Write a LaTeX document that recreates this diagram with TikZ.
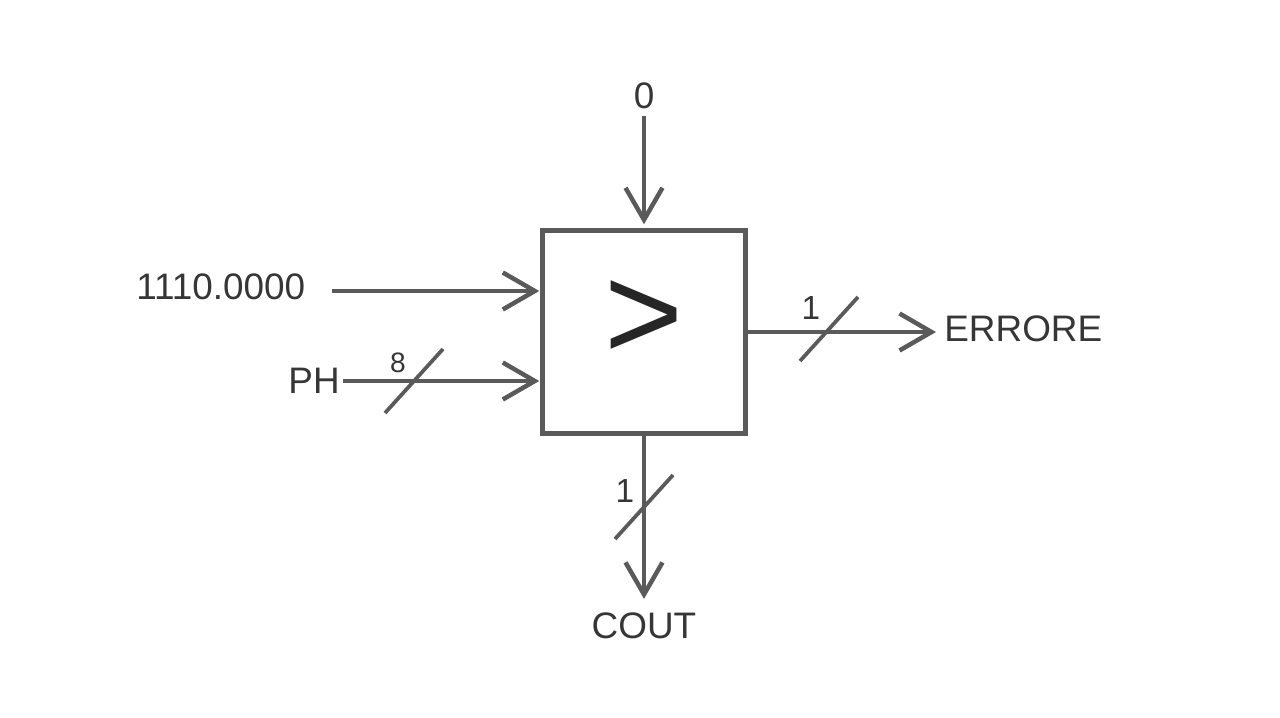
\documentclass[tikz,border=0pt]{standalone}
\usepackage{fontspec}
\setmainfont{Liberation Sans}
\usepackage{xcolor}
\usetikzlibrary{arrows.meta,positioning,calc}
\definecolor{wire}{HTML}{5A5A5A}
\definecolor{ink}{HTML}{363636}
\definecolor{sign}{HTML}{262626}

\begin{document}
\begin{tikzpicture}[x=0.02cm,y=-0.02cm,>={Straight Barb[length=0.64cm,width=0.74cm]},
  sig/.style={->,draw=wire,line width=0.09cm,shorten >=0.02cm},
  bus/.style={draw=wire,line width=0.075cm},
  lbl/.style={inner sep=0,text=ink,font=\fontsize{21}{25}\selectfont},
  width/.style={inner sep=0,text=ink,font=\fontsize{19}{22}\selectfont},
  cmpbox/.style={draw=wire,line width=0.09cm,minimum size=4.06cm,inner sep=0}]
\useasboundingbox (0,0) rectangle (1280,717);
% comparator
\node[cmpbox] (cmp) at (644,332) {};
\node[inner sep=0,text=sign,font=\fontsize{77}{80}\selectfont,anchor=base] (gt) at (644,359) {>};
% labels
\node[lbl,anchor=base] (zero) at (644,108) {0};
\node[lbl,anchor=base west] (thr) at (136,299) {1110.0000};
\node[lbl,anchor=base east] (ph) at (340,393) {PH};
\node[lbl,anchor=base west] (err) at (944,341) {ERRORE};
\node[lbl,anchor=base] (cout) at (644,638) {COUT};
\node[width,anchor=base,font=\fontsize{16}{18}\selectfont] (w8) at (398,372) {8};
\node[width,anchor=base] (w1e) at (811,319) {1};
\node[width,anchor=base] (w1c) at (625,502) {1};
% wires
\draw[sig] ([shift={(0,7)}]zero.south) -- ([shift={(0,-3)}]cmp.north);
\draw[sig] ([shift={(26,-8)}]thr.base east) -- (cmp.west |- 0,291);
\draw[sig] ([shift={(3,-12)}]ph.base east) -- (cmp.west |- 0,381);
\draw[sig] (cmp.east |- 0,332) -- ([shift={(-7,-9)}]err.base west);
\draw[sig] (cmp.south) -- ([shift={(0,-12)}]cout.north);
% bus marks
\draw[bus] (385,413) -- ++(58,-64);
\draw[bus] (800,361) -- ++(58,-64);
\draw[bus] (615,539) -- ++(58,-64);
\end{tikzpicture}
\end{document}
